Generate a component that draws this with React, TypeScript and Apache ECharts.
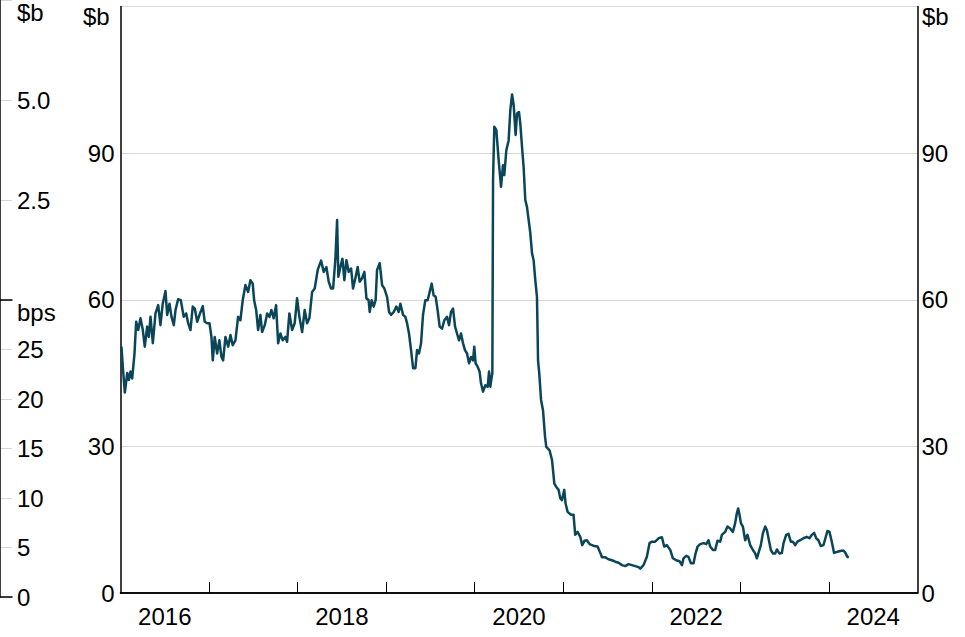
import React, { useEffect, useRef } from "react";
import * as echarts from "echarts";

// Decimal-year dates and values ($b)
const dates: number[] = [
  2016.011, 2016.026, 2016.049, 2016.076, 2016.094, 2016.113, 2016.132, 2016.158, 2016.177, 2016.2,
  2016.226, 2016.252, 2016.274, 2016.301, 2016.319, 2016.339, 2016.365, 2016.395, 2016.426, 2016.451,
  2016.477, 2016.508, 2016.527, 2016.553, 2016.576, 2016.602, 2016.621, 2016.651, 2016.681, 2016.714,
  2016.742, 2016.764, 2016.79, 2016.816, 2016.839, 2016.866, 2016.892, 2016.929, 2016.951, 2016.979,
  2017.005, 2017.027, 2017.042, 2017.064, 2017.091, 2017.117, 2017.14, 2017.159, 2017.185, 2017.216,
  2017.242, 2017.267, 2017.298, 2017.328, 2017.354, 2017.38, 2017.411, 2017.441, 2017.467, 2017.493,
  2017.509, 2017.532, 2017.554, 2017.58, 2017.599, 2017.629, 2017.656, 2017.682, 2017.704, 2017.73,
  2017.757, 2017.78, 2017.806, 2017.832, 2017.862, 2017.881, 2017.907, 2017.938, 2017.967, 2017.994,
  2018.02, 2018.051, 2018.08, 2018.107, 2018.133, 2018.164, 2018.193, 2018.227, 2018.265, 2018.295,
  2018.325, 2018.351, 2018.378, 2018.401, 2018.427, 2018.446, 2018.46, 2018.483, 2018.506, 2018.528,
  2018.551, 2018.577, 2018.604, 2018.626, 2018.652, 2018.678, 2018.701, 2018.728, 2018.754, 2018.777,
  2018.802, 2018.814, 2018.836, 2018.859, 2018.881, 2018.897, 2018.927, 2018.954, 2018.98,
  2019.01, 2019.033, 2019.055, 2019.085, 2019.115, 2019.141, 2019.16, 2019.191, 2019.217, 2019.236,
  2019.258, 2019.281, 2019.304, 2019.33, 2019.349, 2019.371, 2019.394, 2019.416, 2019.442, 2019.468,
  2019.491, 2019.514, 2019.536, 2019.559, 2019.581, 2019.604, 2019.631, 2019.657, 2019.687, 2019.71,
  2019.732, 2019.755, 2019.778, 2019.8, 2019.823, 2019.845, 2019.868, 2019.89, 2019.913, 2019.936,
  2019.958, 2019.981, 2019.995,
  2020.01, 2020.033, 2020.055, 2020.071, 2020.094, 2020.12, 2020.146, 2020.162, 2020.176, 2020.187,
  2020.199, 2020.207, 2020.221, 2020.244, 2020.27, 2020.297, 2020.319, 2020.334, 2020.357, 2020.383,
  2020.402, 2020.422, 2020.44, 2020.462, 2020.478, 2020.5, 2020.515, 2020.534, 2020.552, 2020.571,
  2020.59, 2020.609, 2020.628, 2020.647, 2020.665, 2020.684, 2020.703, 2020.715, 2020.729, 2020.749,
  2020.771, 2020.794, 2020.808, 2020.845, 2020.873, 2020.899, 2020.921, 2020.947, 2020.966, 2020.985,
  2021.011, 2021.026, 2021.049, 2021.087, 2021.116, 2021.135, 2021.161, 2021.192, 2021.214, 2021.24,
  2021.267, 2021.297, 2021.324, 2021.35, 2021.387, 2021.418, 2021.437, 2021.474, 2021.511, 2021.55,
  2021.587, 2021.624, 2021.663, 2021.7, 2021.737, 2021.775, 2021.813, 2021.85, 2021.869, 2021.906,
  2021.944, 2021.974,
  2022.001, 2022.038, 2022.076, 2022.114, 2022.14, 2022.17, 2022.208, 2022.238, 2022.275, 2022.313,
  2022.34, 2022.358, 2022.388, 2022.414, 2022.441, 2022.471, 2022.49, 2022.516, 2022.546, 2022.584,
  2022.614, 2022.64, 2022.659, 2022.69, 2022.716, 2022.741, 2022.772, 2022.791, 2022.828, 2022.854,
  2022.885, 2022.915, 2022.941, 2022.96, 2022.975, 2022.99,
  2023.006, 2023.028, 2023.054, 2023.08, 2023.111, 2023.141, 2023.167, 2023.186, 2023.208, 2023.231,
  2023.254, 2023.28, 2023.299, 2023.322, 2023.344, 2023.367, 2023.393, 2023.412, 2023.441, 2023.468,
  2023.487, 2023.517, 2023.543, 2023.57, 2023.593, 2023.619, 2023.644, 2023.675, 2023.712, 2023.75,
  2023.78, 2023.807, 2023.833, 2023.856, 2023.881, 2023.908, 2023.938, 2023.96, 2023.983,
  2024.006, 2024.032, 2024.058, 2024.089, 2024.126, 2024.163, 2024.186, 2024.208, 2024.224,
];

const values: number[] = [
  50.4, 46.3, 41.0, 45.0, 43.6, 45.3, 43.9, 49.0, 55.5, 53.8,
  56.2, 53.8, 50.4, 54.5, 52.4, 56.5, 51.1, 57.2, 58.9, 54.8,
  59.2, 61.8, 56.9, 59.2, 56.5, 54.8, 57.9, 60.1, 59.9, 56.5,
  57.2, 55.2, 53.8, 58.6, 58.2, 55.5, 56.9, 58.7, 55.5, 55.2,
  55.2, 52.4, 47.6, 52.4, 49.0, 51.7, 48.3, 47.6, 52.4, 50.4,
  52.8, 50.7, 51.7, 56.5, 55.8, 59.9, 63.0, 61.6, 64.0, 63.3,
  59.9, 57.9, 53.8, 56.9, 53.4, 54.8, 57.2, 56.5, 57.9, 56.2,
  58.9, 51.1, 53.1, 51.7, 52.4, 51.4, 57.2, 53.8, 55.2, 60.3,
  56.5, 53.4, 57.9, 55.2, 56.2, 61.6, 62.3, 66.1, 68.0, 65.7,
  66.7, 63.7, 62.3, 62.3, 68.4, 76.3, 64.7, 66.7, 68.4, 64.0,
  68.1, 65.7, 66.4, 62.3, 64.4, 66.7, 63.7, 64.4, 65.7, 60.3,
  59.9, 57.5, 59.9, 58.6, 59.9, 66.1, 67.5, 63.0, 62.3,
  60.6, 57.5, 56.9, 57.5, 58.6, 57.5, 59.2, 56.9, 56.5, 55.2,
  53.1, 49.7, 46.0, 46.0, 49.7, 49.0, 51.1, 56.9, 59.9, 59.9,
  61.6, 63.3, 60.9, 60.6, 57.9, 54.5, 54.1, 55.8, 56.5, 54.8,
  57.5, 58.2, 54.5, 53.1, 51.7, 53.1, 51.1, 49.7, 49.0, 47.0,
  48.3, 47.6, 50.4,
  47.0, 46.3, 45.3, 42.9, 41.2, 42.5, 42.2, 45.3, 42.2, 43.6,
  45.0, 84.5, 95.4, 94.7, 88.6, 83.1, 87.5, 85.5, 90.6, 92.6,
  98.8, 102.0, 99.8, 93.7, 98.1, 98.4, 96.0, 91.3, 87.2, 80.4,
  79.0, 76.3, 73.6, 69.5, 68.1, 64.0, 60.6, 47.6, 44.9, 39.5,
  37.4, 32.0, 29.9, 29.2, 27.2, 22.4, 21.7, 21.1, 19.4, 19.0,
  21.1, 18.3, 16.6, 16.0, 16.0, 11.9, 12.5, 11.5, 9.8, 10.7,
  10.8, 10.0, 9.8, 9.6, 9.5, 8.2, 7.3, 7.3, 6.9, 6.7,
  6.4, 6.2, 5.7, 5.5, 5.9, 5.7, 5.5, 5.3, 5.0, 5.7,
  7.4, 10.2,
  10.5, 10.5, 11.2, 11.4, 9.5, 9.8, 8.8, 7.1, 6.7, 6.5,
  5.7, 7.1, 7.6, 7.4, 6.1, 6.1, 7.8, 9.5, 10.0, 10.2,
  10.0, 10.8, 9.5, 8.8, 8.8, 10.7, 10.5, 11.9, 12.5, 13.6,
  13.2, 12.5, 14.3, 16.3, 17.3, 16.0,
  14.3, 13.6, 10.8, 11.9, 9.8, 8.8, 8.1, 7.1, 8.4, 9.8,
  12.2, 13.6, 12.9, 10.8, 8.8, 8.1, 8.1, 8.9, 8.1, 8.2,
  10.2, 11.9, 12.1, 10.5, 10.5, 9.8, 10.5, 10.8, 11.2, 11.5,
  11.2, 11.9, 12.3, 11.2, 10.8, 9.6, 9.8, 11.2, 12.7,
  12.5, 10.5, 8.2, 8.4, 8.6, 8.7, 8.2, 7.4, 7.2,
];

const yearTicks: number[] = [2017, 2018, 2019, 2020, 2021, 2022, 2023, 2024];
const yearLabels: number[] = [2016.5, 2018.5, 2020.5, 2022.5, 2024.5];
const mainUnit = "$b";
const leftTopUnit = "$b";
const leftBottomUnit = "bps";

const FONT = "'Liberation Sans', Arial, sans-serif";
const FS = 24;
const LINE = "#0a4658";
const GRID = "#d6d6d6";

export default function App() {
  const ref = useRef<HTMLDivElement>(null);
  useEffect(() => {
    if (!ref.current) return;
    const chart = echarts.init(ref.current, null, { renderer: "svg" });
    const txt = { fontFamily: FONT, fontSize: FS, color: "#000" };
    const axisLineBlack = { show: true, lineStyle: { color: "#000", width: 1.5 } };
    chart.setOption({
      animation: false,
      backgroundColor: "#fff",
      grid: [
        { left: 120.5, right: 47.5, top: 6.5, bottom: 44, containLabel: false },
        { left: 0, width: 12, top: 0, height: 300 },
        { left: 0, width: 12, top: 300, height: 297 },
      ],
      xAxis: [
        {
          type: "value", gridIndex: 0, min: 2016, max: 2025,
          axisLine: axisLineBlack,
          splitLine: { show: false },
          axisTick: { show: true, inside: true, length: 11, customValues: yearTicks, lineStyle: { color: "#000", width: 1 } },
          axisLabel: { ...txt, margin: 11, customValues: yearLabels, formatter: (v: number) => String(Math.floor(v)) },
        },
        {
          type: "value", gridIndex: 0, min: 2016, max: 2025, position: "top",
          axisLine: axisLineBlack, axisTick: { show: false }, axisLabel: { show: false }, splitLine: { show: false },
        },
        {
          type: "value", gridIndex: 1, min: 0, max: 1,
          axisLine: axisLineBlack, axisTick: { show: false }, axisLabel: { show: false }, splitLine: { show: false },
        },
        {
          type: "value", gridIndex: 2, min: 0, max: 1,
          axisLine: axisLineBlack, axisTick: { show: false }, axisLabel: { show: false }, splitLine: { show: false },
        },
      ],
      yAxis: [
        {
          type: "value", gridIndex: 0, min: 0, max: 120, interval: 30, position: "left",
          axisLine: axisLineBlack, axisTick: { show: false },
          splitLine: { show: true, lineStyle: { color: GRID, width: 1 } },
          axisLabel: { ...txt, margin: 6, formatter: (v: number) => (v === 120 ? "" : String(v)) },
        },
        {
          type: "value", gridIndex: 0, min: 0, max: 120, interval: 30, position: "right",
          axisLine: axisLineBlack, axisTick: { show: false }, splitLine: { show: false },
          axisLabel: { ...txt, margin: 4, formatter: (v: number) => (v === 120 ? "" : String(v)) },
        },
        {
          type: "value", gridIndex: 1, min: 0, max: 7.5, interval: 2.5, position: "right",
          axisLine: axisLineBlack, axisTick: { show: false },
          splitLine: { show: true, lineStyle: { color: GRID, width: 1 } },
          axisLabel: { ...txt, margin: 5, formatter: (v: number) => (v === 2.5 || v === 5 ? v.toFixed(1) : "") },
        },
        {
          type: "value", gridIndex: 2, min: 0, max: 30, interval: 5, position: "right",
          axisLine: axisLineBlack, axisTick: { show: false },
          splitLine: { show: true, lineStyle: { color: GRID, width: 1 } },
          axisLabel: { ...txt, margin: 5, formatter: (v: number) => (v === 30 ? "" : String(v)) },
        },
      ],
      graphic: [
        { type: "text", left: 83, top: 4, style: { text: mainUnit, font: `${FS}px ${FONT}`, fill: "#000" } },
        { type: "text", left: 922, top: 4, style: { text: mainUnit, font: `${FS}px ${FONT}`, fill: "#000" } },
        { type: "text", left: 17, top: 0, style: { text: leftTopUnit, font: `${FS}px ${FONT}`, fill: "#000" } },
        { type: "text", left: 17, top: 300, style: { text: leftBottomUnit, font: `${FS}px ${FONT}`, fill: "#000" } },
      ],
      series: [
        {
          type: "line", xAxisIndex: 0, yAxisIndex: 0, showSymbol: false, symbol: "none",
          lineStyle: { color: LINE, width: 2.5, join: "round" },
          data: dates.map((d, i) => [d, values[i]]),
          z: 5,
        },
      ],
    });
    return () => chart.dispose();
  }, []);
  return <div ref={ref} style={{ width: 965, height: 637, position: "fixed", left: 0, top: 0 }} />;
}
